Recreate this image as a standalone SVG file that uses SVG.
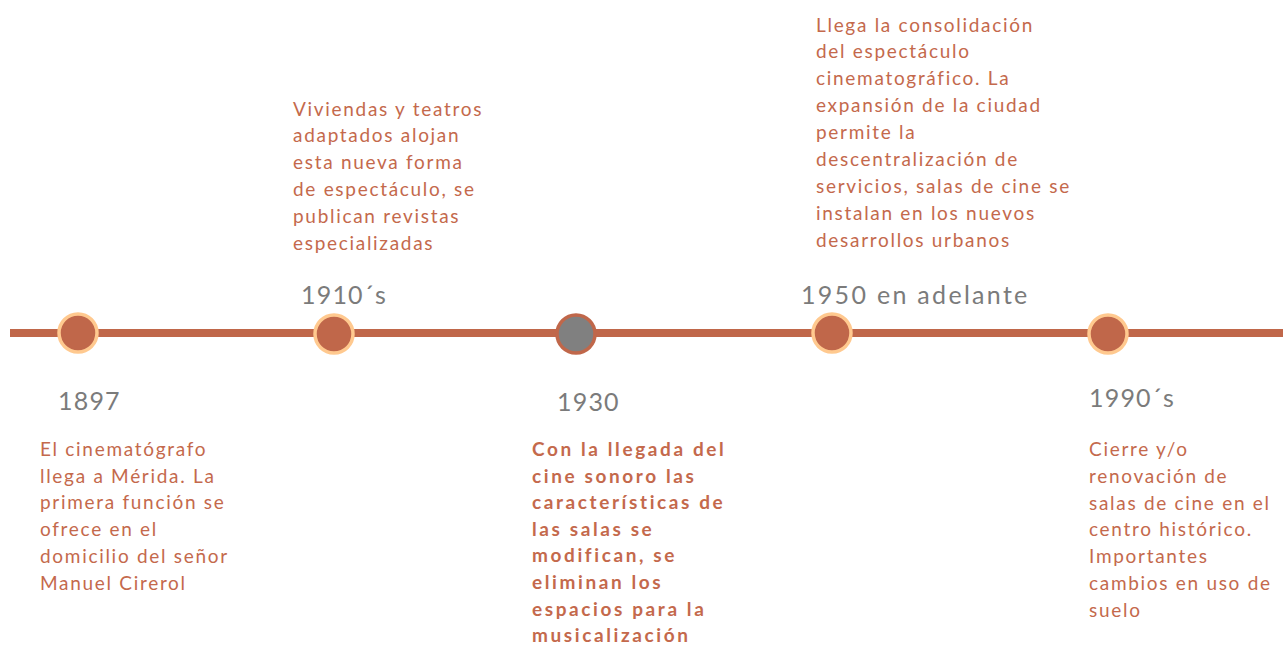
<svg xmlns="http://www.w3.org/2000/svg" width="1283" height="645" viewBox="0 0 1283 645">
<style>
.body{font-family:Lato,"Open Sans",sans-serif;font-size:19px;fill:#C4694C;letter-spacing:1.7px}
.bold{font-weight:bold;letter-spacing:2.6px}
.year{font-family:Lato,"Open Sans",sans-serif;font-size:25px;fill:#7B7B7B;letter-spacing:1.2px}
.wide{letter-spacing:2.3px}
.dot{fill:#C0674A;stroke:#FFC98F;stroke-width:3.5}
.dot2{fill:#808080;stroke:#C0674A;stroke-width:3.5}
</style>
<rect width="1283" height="645" fill="#FFFFFF"/>
<g id="connectors">
<line x1="10" y1="333" x2="1283" y2="333" stroke="#C0674A" stroke-width="8"/>
</g>
<g id="n1897">
<circle class="dot" cx="78" cy="333" r="19"/>
<text class="year" x="58" y="410">1897</text>
<text class="body"><tspan x="40" y="456">El cinematógrafo</tspan><tspan x="40" y="483">llega a Mérida. La</tspan><tspan x="40" y="509">primera función se</tspan><tspan x="40" y="536">ofrece en el</tspan><tspan x="40" y="563">domicilio del señor</tspan><tspan x="40" y="590">Manuel Cirerol</tspan></text>
</g>
<g id="n1910">
<circle class="dot" cx="334" cy="334" r="19"/>
<text class="year" x="301" y="304">1910´s</text>
<text class="body"><tspan x="293" y="116">Viviendas y teatros</tspan><tspan x="293" y="142">adaptados alojan</tspan><tspan x="293" y="169">esta nueva forma</tspan><tspan x="293" y="196">de espectáculo, se</tspan><tspan x="293" y="223">publican revistas</tspan><tspan x="293" y="250">especializadas</tspan></text>
</g>
<g id="n1930">
<circle class="dot2" cx="576" cy="334" r="19"/>
<text class="year" x="557" y="411">1930</text>
<text class="body bold"><tspan x="532" y="456">Con la llegada del</tspan><tspan x="532" y="482.6">cine sonoro las</tspan><tspan x="532" y="509.2">características de</tspan><tspan x="532" y="535.8">las salas se</tspan><tspan x="532" y="562.4">modifican, se</tspan><tspan x="532" y="589">eliminan los</tspan><tspan x="532" y="615.6">espacios para la</tspan><tspan x="532" y="642">musicalización</tspan></text>
</g>
<g id="n1950">
<circle class="dot" cx="832" cy="333" r="19"/>
<text class="year wide" x="801" y="304">1950 en adelante</text>
<text class="body"><tspan x="816" y="32">Llega la consolidación</tspan><tspan x="816" y="58">del espectáculo</tspan><tspan x="816" y="85">cinematográfico. La</tspan><tspan x="816" y="112">expansión de la ciudad</tspan><tspan x="816" y="139">permite la</tspan><tspan x="816" y="166">descentralización de</tspan><tspan x="816" y="193">servicios, salas de cine se</tspan><tspan x="816" y="220">instalan en los nuevos</tspan><tspan x="816" y="247">desarrollos urbanos</tspan></text>
</g>
<g id="n1990">
<circle class="dot" cx="1108" cy="334" r="19"/>
<text class="year" x="1089" y="407">1990´s</text>
<text class="body"><tspan x="1089" y="456">Cierre y/o</tspan><tspan x="1089" y="483">renovación de</tspan><tspan x="1089" y="510">salas de cine en el</tspan><tspan x="1089" y="536">centro histórico.</tspan><tspan x="1089" y="563">Importantes</tspan><tspan x="1089" y="590">cambios en uso de</tspan><tspan x="1089" y="617">suelo</tspan></text>
</g>
</svg>
